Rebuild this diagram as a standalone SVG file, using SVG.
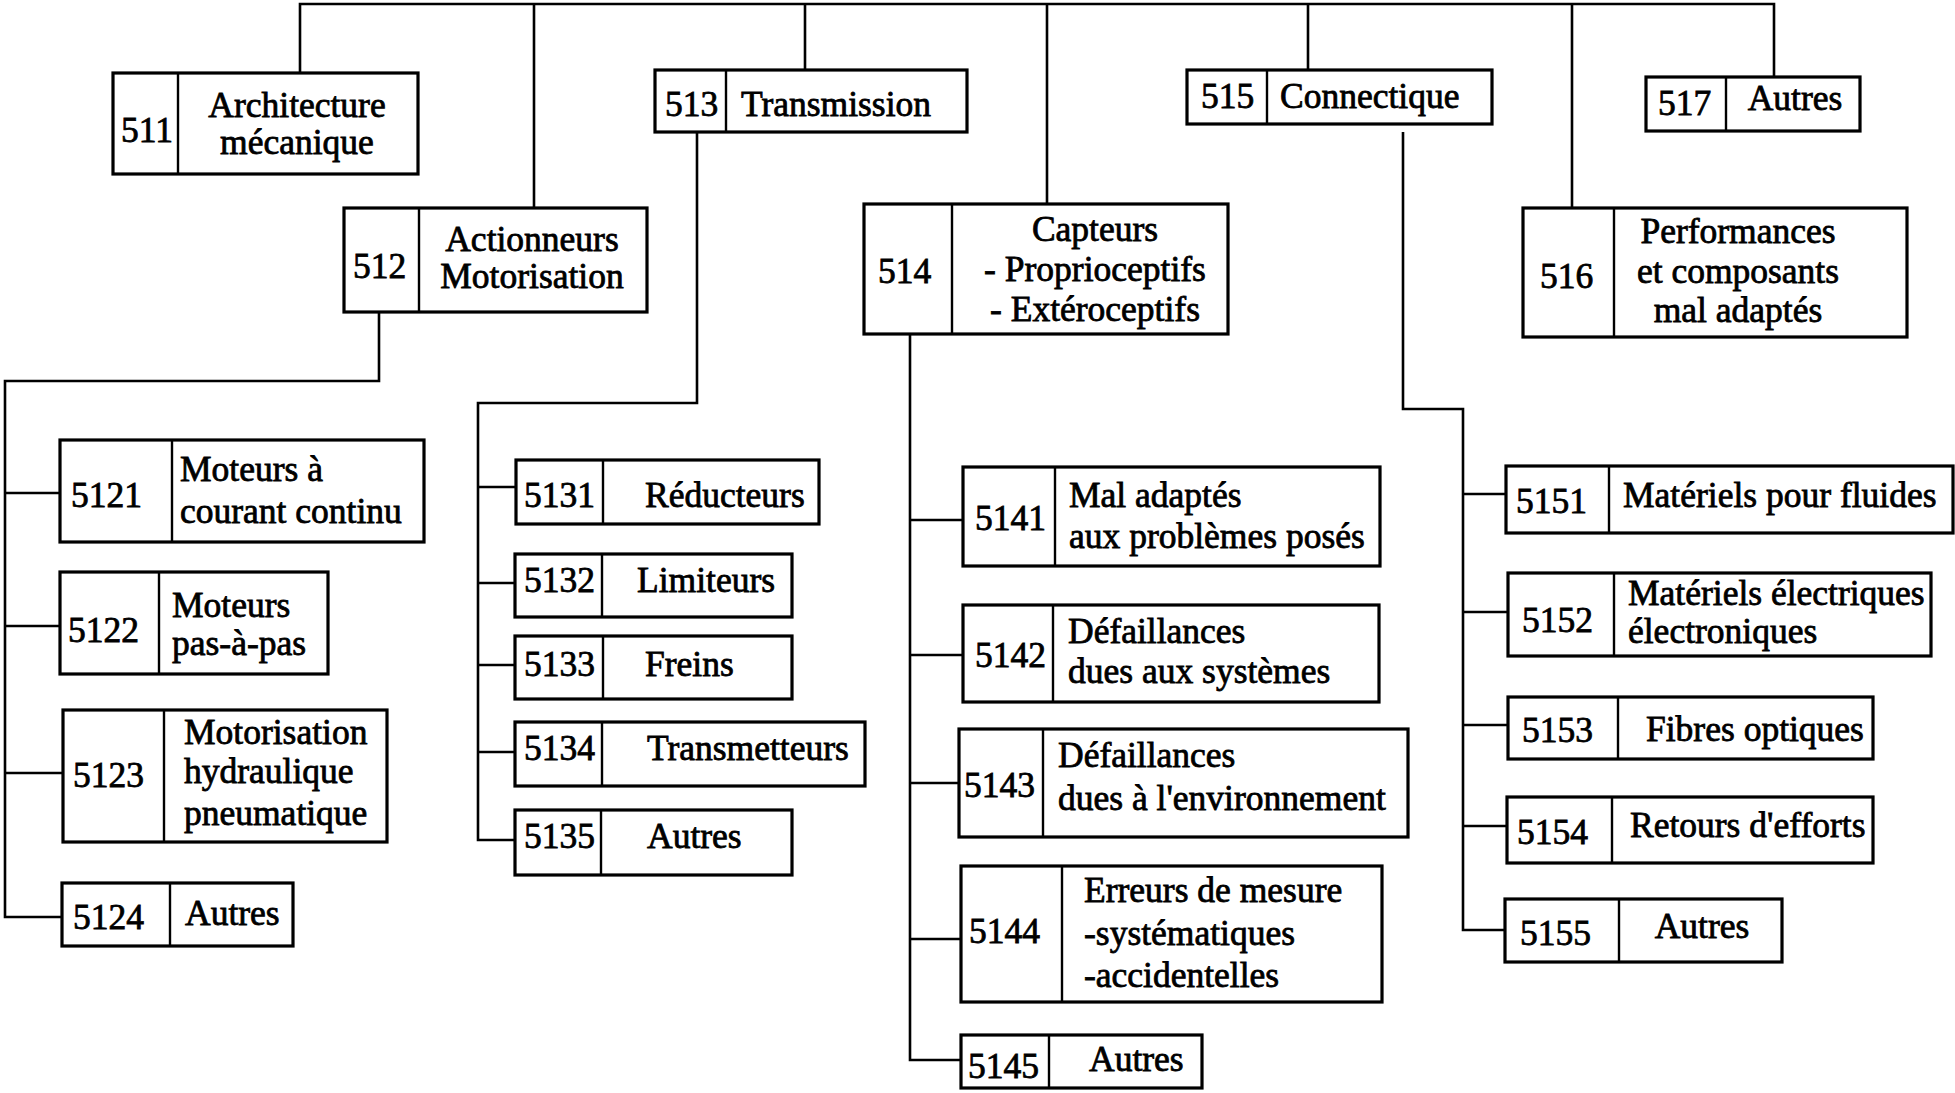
<svg xmlns="http://www.w3.org/2000/svg" width="1955" height="1093" viewBox="0 0 1955 1093">
<style>
.box{fill:#fff;stroke:#000;stroke-width:3.2}
.dv{stroke:#000;stroke-width:2.4}
.conn{fill:none;stroke:#000;stroke-width:2.6;stroke-linejoin:miter}
text{font-family:"Liberation Serif","Times New Roman",serif;font-size:35.5px;fill:#000;stroke:#000;stroke-width:0.8}
.m{text-anchor:middle}
</style>
<rect width="1955" height="1093" fill="#fff"/>
<g id="connectors">
<path class="conn" d="M300,73 V4 H1774 V77 M534,4 V208 M805,4 V70 M1047,4 V204 M1308,4 V70 M1572,4 V208"/>
<path class="conn" d="M379,312 V381 H5 V917 H62 M5,493 H60 M5,626 H60 M5,773 H63"/>
<path class="conn" d="M697,132 V403 H478 V840 H515 M478,487 H516 M478,583 H515 M478,665 H515 M478,752 H515"/>
<path class="conn" d="M910,334 V1060 H961 M910,520 H963 M910,655 H963 M910,783 H959 M910,939 H961"/>
<path class="conn" d="M1403,132 V409 H1463 V930 H1505 M1463,494 H1506 M1463,612 H1508 M1463,725 H1508 M1463,826 H1507"/>
</g>
<g id="n511"><rect class="box" x="113" y="73" width="305" height="101"/><line class="dv" x1="178" y1="73" x2="178" y2="174"/><text x="121" y="142">511</text><text class="m" x="297" y="117">Architecture</text><text class="m" x="297" y="154">mécanique</text></g>
<g id="n512"><rect class="box" x="344" y="208" width="303" height="104"/><line class="dv" x1="419" y1="208" x2="419" y2="312"/><text x="353" y="278">512</text><text class="m" x="532" y="251">Actionneurs</text><text class="m" x="532" y="288">Motorisation</text></g>
<g id="n513"><rect class="box" x="655" y="70" width="312" height="62"/><line class="dv" x1="726" y1="70" x2="726" y2="132"/><text x="665" y="116">513</text><text x="741" y="116">Transmission</text></g>
<g id="n514"><rect class="box" x="864" y="204" width="364" height="130"/><line class="dv" x1="952" y1="204" x2="952" y2="334"/><text x="878" y="283">514</text><text class="m" x="1095" y="241">Capteurs</text><text class="m" x="1095" y="281">- Proprioceptifs</text><text class="m" x="1095" y="321">- Extéroceptifs</text></g>
<g id="n515"><rect class="box" x="1187" y="70" width="305" height="54"/><line class="dv" x1="1267" y1="70" x2="1267" y2="124"/><text x="1201" y="108">515</text><text x="1280" y="108">Connectique</text></g>
<g id="n516"><rect class="box" x="1523" y="208" width="384" height="129"/><line class="dv" x1="1614" y1="208" x2="1614" y2="337"/><text x="1540" y="288">516</text><text class="m" x="1738" y="243">Performances</text><text class="m" x="1738" y="283">et composants</text><text class="m" x="1738" y="322">mal adaptés</text></g>
<g id="n517"><rect class="box" x="1646" y="77" width="214" height="54"/><line class="dv" x1="1726" y1="77" x2="1726" y2="131"/><text x="1658" y="115">517</text><text class="m" x="1795" y="110">Autres</text></g>
<g id="n5121"><rect class="box" x="60" y="440" width="364" height="102"/><line class="dv" x1="172" y1="440" x2="172" y2="542"/><text x="71" y="507">5121</text><text x="180" y="481">Moteurs à</text><text x="180" y="523">courant continu</text></g>
<g id="n5122"><rect class="box" x="60" y="572" width="268" height="102"/><line class="dv" x1="159" y1="572" x2="159" y2="674"/><text x="68" y="642">5122</text><text x="172" y="617">Moteurs</text><text x="172" y="655">pas-à-pas</text></g>
<g id="n5123"><rect class="box" x="63" y="710" width="324" height="132"/><line class="dv" x1="164" y1="710" x2="164" y2="842"/><text x="73" y="787">5123</text><text x="184" y="744">Motorisation</text><text x="184" y="783">hydraulique</text><text x="184" y="825">pneumatique</text></g>
<g id="n5124"><rect class="box" x="62" y="883" width="231" height="63"/><line class="dv" x1="170" y1="883" x2="170" y2="946"/><text x="73" y="929">5124</text><text x="185" y="925">Autres</text></g>
<g id="n5131"><rect class="box" x="516" y="460" width="303" height="64"/><line class="dv" x1="603" y1="460" x2="603" y2="524"/><text x="524" y="507">5131</text><text x="645" y="507">Réducteurs</text></g>
<g id="n5132"><rect class="box" x="515" y="554" width="277" height="63"/><line class="dv" x1="602" y1="554" x2="602" y2="617"/><text x="524" y="592">5132</text><text x="637" y="592">Limiteurs</text></g>
<g id="n5133"><rect class="box" x="515" y="636" width="277" height="63"/><line class="dv" x1="603" y1="636" x2="603" y2="699"/><text x="524" y="676">5133</text><text x="645" y="676">Freins</text></g>
<g id="n5134"><rect class="box" x="515" y="722" width="350" height="64"/><line class="dv" x1="602" y1="722" x2="602" y2="786"/><text x="524" y="760">5134</text><text x="647" y="760">Transmetteurs</text></g>
<g id="n5135"><rect class="box" x="515" y="810" width="277" height="65"/><line class="dv" x1="601" y1="810" x2="601" y2="875"/><text x="524" y="848">5135</text><text x="647" y="848">Autres</text></g>
<g id="n5141"><rect class="box" x="963" y="467" width="417" height="99"/><line class="dv" x1="1055" y1="467" x2="1055" y2="566"/><text x="975" y="530">5141</text><text x="1069" y="507">Mal adaptés</text><text x="1069" y="548">aux problèmes posés</text></g>
<g id="n5142"><rect class="box" x="963" y="605" width="416" height="97"/><line class="dv" x1="1053" y1="605" x2="1053" y2="702"/><text x="975" y="667">5142</text><text x="1068" y="643">Défaillances</text><text x="1068" y="683">dues aux systèmes</text></g>
<g id="n5143"><rect class="box" x="959" y="729" width="449" height="108"/><line class="dv" x1="1043" y1="729" x2="1043" y2="837"/><text x="964" y="797">5143</text><text x="1058" y="767">Défaillances</text><text x="1058" y="810">dues à l'environnement</text></g>
<g id="n5144"><rect class="box" x="961" y="866" width="421" height="136"/><line class="dv" x1="1062" y1="866" x2="1062" y2="1002"/><text x="969" y="943">5144</text><text x="1084" y="902">Erreurs de mesure</text><text x="1084" y="945">-systématiques</text><text x="1084" y="987">-accidentelles</text></g>
<g id="n5145"><rect class="box" x="961" y="1035" width="241" height="53"/><line class="dv" x1="1049" y1="1035" x2="1049" y2="1088"/><text x="968" y="1078">5145</text><text x="1089" y="1071">Autres</text></g>
<g id="n5151"><rect class="box" x="1506" y="466" width="447" height="67"/><line class="dv" x1="1609" y1="466" x2="1609" y2="533"/><text x="1516" y="513">5151</text><text x="1623" y="507">Matériels pour fluides</text></g>
<g id="n5152"><rect class="box" x="1508" y="573" width="423" height="83"/><line class="dv" x1="1614" y1="573" x2="1614" y2="656"/><text x="1522" y="632">5152</text><text x="1628" y="605">Matériels électriques</text><text x="1628" y="643">électroniques</text></g>
<g id="n5153"><rect class="box" x="1508" y="697" width="365" height="62"/><line class="dv" x1="1618" y1="697" x2="1618" y2="759"/><text x="1522" y="742">5153</text><text x="1646" y="741">Fibres optiques</text></g>
<g id="n5154"><rect class="box" x="1507" y="797" width="366" height="66"/><line class="dv" x1="1612" y1="797" x2="1612" y2="863"/><text x="1517" y="844">5154</text><text x="1630" y="837">Retours d'efforts</text></g>
<g id="n5155"><rect class="box" x="1505" y="899" width="277" height="63"/><line class="dv" x1="1619" y1="899" x2="1619" y2="962"/><text x="1520" y="945">5155</text><text class="m" x="1702" y="938">Autres</text></g>
</svg>
